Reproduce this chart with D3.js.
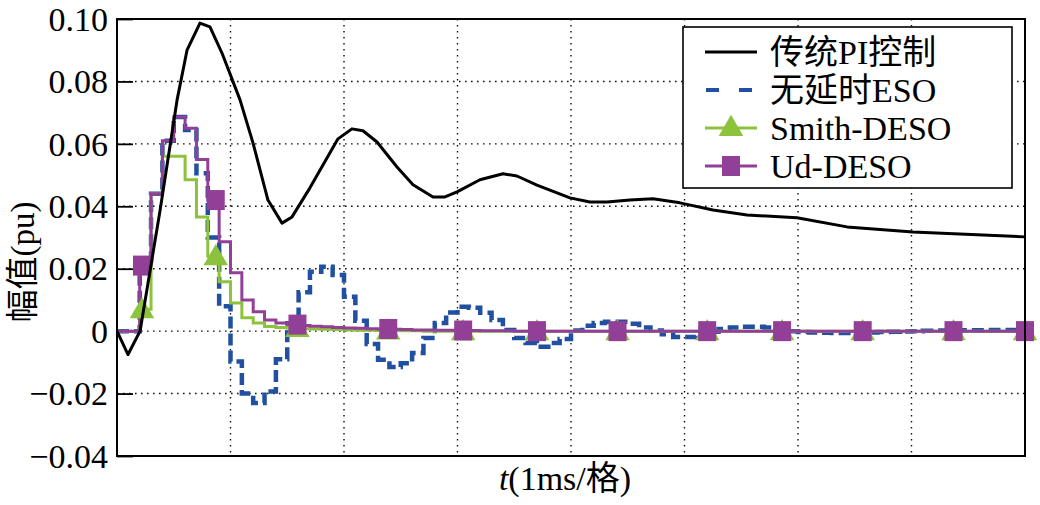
<!DOCTYPE html>
<html><head><meta charset="utf-8">
<script src="https://cdn.jsdelivr.net/npm/d3@7"></script>
<style>html,body{margin:0;padding:0;background:#fff;} svg{display:block;}</style>
</head><body>
<svg id="c" width="1040" height="505"></svg>
<script>
// ---------------- data ----------------
const stepT = 0.1; // sample period of the step curves (ms)
const piT = [0,0.097,0.203,0.38,0.529,0.617,0.731,0.819,0.925,1.084,1.198,1.330,1.454,1.542,1.700,1.947,2.070,2.167,2.291,2.467,2.608,2.784,2.890,2.996,3.198,3.401,3.524,3.700,3.991,4.167,4.317,4.520,4.722,4.960,5.251,5.551,5.991,6.432,7.013,8.0];
const piV = [0,-0.0075,0,0.0388,0.074,0.090,0.0987,0.0975,0.0891,0.0741,0.0603,0.0420,0.0346,0.0366,0.0459,0.0616,0.0648,0.0642,0.0606,0.0526,0.0469,0.0430,0.0430,0.0446,0.0485,0.0504,0.0497,0.0468,0.0427,0.0414,0.0414,0.0420,0.0424,0.0411,0.0388,0.0372,0.0363,0.0334,0.0318,0.0302];
const esoV = [0,0,0.021,0.044,0.061,0.0686,0.0644,0.0506,0.030,0.008,
  -0.0097,-0.0200,-0.0230,-0.0193,-0.0090,0.0025,0.0125,0.0190,0.0206,0.0180,
  0.0110,0.0033,-0.0041,-0.0092,-0.0115,-0.0103,-0.0070,-0.0022,0.0026,0.0060,
  0.0078,0.0075,0.0059,0.0036,0.0004,-0.0022,-0.0038,-0.0050,-0.0038,-0.0025,
  0.0002,0.0017,0.0026,0.0030,0.0030,0.0024,0.0012,0.0002,-0.0010,-0.0019,
  -0.0019,-0.0012,-0.0002,0.0007,0.0012,0.0014,0.0014,0.0012,0.0006,0.0000,
  -0.0003,-0.0004,-0.0005,-0.0006,-0.0006,-0.0005,-0.0004,-0.0003,-0.0002,-0.0001,
  0.0000,0.0001,0.0002,0.0002,0.0003,0.0003,0.0003,0.0004,0.0004,0.0004];
const smithV = [0,0,0.007,0.044,0.056,0.056,0.0485,0.0366,0.024,0.0158,
  0.009,0.0043,0.0026,0.0015,0.0012,0.0010,0.0008,0.0007,0.0006,0.0005,
  0.0004,0.0003,0.0003,0.0002,0.0002,0.0001,0.0001,0,0,0,
  0,0,0,0,0,0,0,0,0,0,
  0,0,0,0,0,0,0,0,0,0,
  0,0,0,0,0,0,0,0,0,0,
  0,0,0,0,0,0,0,0,0,0,
  0,0,0,0,0,0,0,0,0,0];
const udV = [0,0,0.021,0.044,0.061,0.0686,0.065,0.055,0.042,0.0286,
  0.0187,0.010,0.0062,0.0036,0.0026,0.0021,0.0018,0.0016,0.0014,0.0012,
  0.0010,0.0009,0.0008,0.0007,0.0006,0.0005,0.0004,0.0004,0.0003,0.0003,
  0.0002,0.0002,0.0001,0.0001,0.0001,0,0,0,0,0,
  0,0,0,0,0,0,0,0,0,0,
  0,0,0,0,0,0,0,0,0,0,
  0,0,0,0,0,0,0,0,0,0,
  0,0,0,0,0,0,0,0,0,0];
const markerT = [0.22,0.87,1.59,2.39,3.05,3.70,4.41,5.20,5.86,6.57,7.37,8.0];
const yTicks = [0.10,0.08,0.06,0.04,0.02,0,-0.02,-0.04];
const yTickLabels = ["0.10","0.08","0.06","0.04","0.02","0","\u22120.02","\u22120.04"];
const xGrid = [1,2,3,4,5,6,7];
const legendLabels = ["传统PI控制","无延时ESO","Smith-DESO","Ud-DESO"];
const xLabelItalic = "t";
const xLabelRest = "(1ms/格)";
const yLabel = "幅值(pu)";

// ---------------- chart ----------------
const C = {pi:"#000000", eso:"#2150a0", smith:"#8cc23c", ud:"#923f98"};
const font = '"Liberation Serif","Times New Roman","Noto Sans CJK SC",serif';
const svg = d3.select("#c");
const L=117,R=1025,T=19,B=456;
const x = d3.scaleLinear().domain([0,8]).range([L,R]);
const y = d3.scaleLinear().domain([-0.04,0.10]).range([B,T]);

// grid
const grid = svg.append("g").attr("stroke","#111").attr("stroke-width",1.4).attr("stroke-dasharray","1.6,4.4");
grid.selectAll("line.h").data(yTicks.filter(d=>d<0.099 && d>-0.039)).join("line")
  .attr("x1",L).attr("x2",R).attr("y1",d=>y(d)).attr("y2",d=>y(d));
grid.selectAll("line.v").data(xGrid).join("line")
  .attr("x1",d=>x(d)).attr("x2",d=>x(d)).attr("y1",T).attr("y2",B);

// y axis
const ya = svg.append("g").attr("transform",`translate(${L},0)`)
  .call(d3.axisLeft(y).tickValues(yTicks).tickFormat((d,i)=>yTickLabels[i]).tickSizeInner(-16).tickSizeOuter(0).tickPadding(9));
ya.attr("font-family",null).attr("font-size",null);
ya.select(".domain").remove();
ya.selectAll(".tick line").attr("stroke","#000").attr("stroke-width",1.8);
ya.selectAll(".tick text").style("font-family",font).style("font-size","34px").attr("fill","#000").attr("dy","0.33em");

// step series
const stepData = v => v.map((d,i)=>[i*stepT,d]).concat([[8, v[v.length-1]]]);
const stepLine = d3.line().x(d=>x(d[0])).y(d=>y(d[1])).curve(d3.curveStepAfter);
svg.append("path").attr("d",stepLine(stepData(esoV))).attr("fill","none")
  .attr("stroke",C.eso).attr("stroke-width",4.5).attr("stroke-dasharray","12,5");
svg.append("path").attr("d",stepLine(stepData(smithV))).attr("fill","none")
  .attr("stroke",C.smith).attr("stroke-width",3);
svg.append("path").attr("d",stepLine(stepData(udV))).attr("fill","none")
  .attr("stroke",C.ud).attr("stroke-width",3);

const valAt = (v,t) => v[Math.min(v.length-1, Math.floor(t/stepT+1e-9))];
const tri = d3.symbol().type(d3.symbolTriangle).size(260);
svg.append("g").selectAll("path").data(markerT).join("path")
  .attr("d",tri).attr("transform",t=>`translate(${x(t)},${y(valAt(smithV,t))+2})`)
  .attr("fill",C.smith);
svg.append("g").selectAll("rect").data(markerT).join("rect")
  .attr("x",t=>x(t)-9).attr("y",t=>y(valAt(udV,t))-10).attr("width",18).attr("height",20)
  .attr("fill",C.ud);

// PI curve
const piLine = d3.line().x((d,i)=>x(piT[i])).y(d=>y(d));
svg.append("path").attr("d",piLine(piV)).attr("fill","none")
  .attr("stroke",C.pi).attr("stroke-width",3).attr("stroke-linejoin","round");

// frame
svg.append("rect").attr("x",L).attr("y",T).attr("width",R-L).attr("height",B-T)
  .attr("fill","none").attr("stroke","#000").attr("stroke-width",2);

// legend
const lg = svg.append("g");
lg.append("rect").attr("x",683).attr("y",27).attr("width",329).attr("height",161)
  .attr("fill","#fff").attr("stroke","#000").attr("stroke-width",1.6);
const ly = [52,90,128,166];
const lc = [C.pi,C.eso,C.smith,C.ud];
legendLabels.forEach((lab,i)=>{
  const yy = ly[i];
  const ln = lg.append("line").attr("x1",705).attr("x2",757).attr("y1",yy).attr("y2",yy)
    .attr("stroke",lc[i]).attr("stroke-width",i===1?4:3);
  if(i===1) ln.attr("stroke-dasharray","13,20").attr("x1",706);
  if(i===2) lg.append("path").attr("d",tri).attr("transform",`translate(731,${yy+1})`).attr("fill",C.smith);
  if(i===3) lg.append("rect").attr("x",722).attr("y",yy-10).attr("width",18).attr("height",20).attr("fill",C.ud);
  lg.append("text").attr("x",770).attr("y",yy+12).style("font-family",font).style("font-size","34px")
    .attr("fill","#000").text(lab);
});

// axis labels
const xl = svg.append("text").attr("x",565).attr("y",490).attr("text-anchor","middle")
  .style("font-family",font).style("font-size","34px").attr("fill","#000");
xl.append("tspan").attr("font-style","italic").text(xLabelItalic);
xl.append("tspan").text(xLabelRest);
svg.append("text").attr("transform","translate(34,262) rotate(-90)").attr("text-anchor","middle")
  .style("font-family",font).style("font-size","33px").attr("fill","#000").text(yLabel);
</script>
</body></html>
